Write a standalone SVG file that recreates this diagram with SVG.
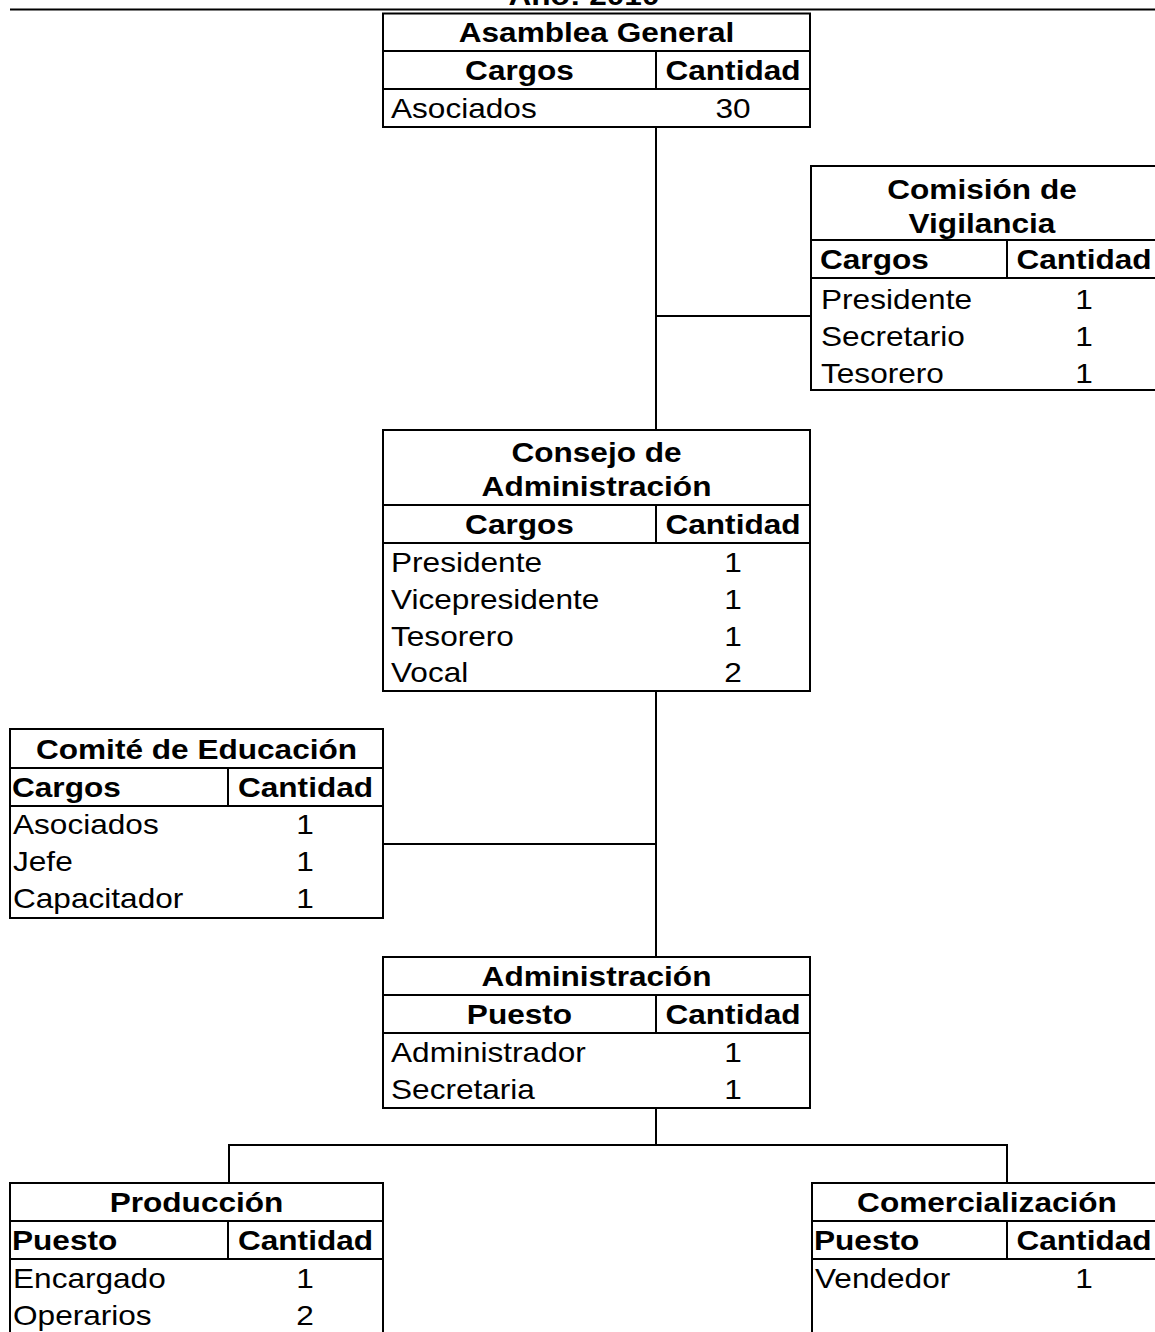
<svg xmlns="http://www.w3.org/2000/svg" width="1155" height="1332" viewBox="0 0 1155 1332">
  <style>
    .box { fill: #ffffff; stroke: #000000; stroke-width: 2; }
    .ln { stroke: #000000; stroke-width: 2; fill: none; }
    text { font-family: "Liberation Sans", Arial, sans-serif; font-size: 27px; fill: #000000; }
    .b { font-weight: bold; }
    .c { text-anchor: middle; }
  </style>
  <rect width="1155" height="1332" fill="#ffffff"/>

  <!-- page heading (mostly above the sheet) and rule -->
  <text class="b c" transform="translate(584 5) scale(1.17 1)">Año: 2010</text>
  <line class="ln" x1="10" y1="9.5" x2="1160" y2="9.5"/>

  <!-- connectors -->
  <g id="connectors">
    <line class="ln" x1="656" y1="127" x2="656" y2="430"/>
    <line class="ln" x1="656" y1="316" x2="811" y2="316"/>
    <line class="ln" x1="656" y1="691" x2="656" y2="957"/>
    <line class="ln" x1="383" y1="844" x2="656" y2="844"/>
    <line class="ln" x1="656" y1="1108" x2="656" y2="1145"/>
    <polyline class="ln" points="229,1183 229,1145 1007,1145 1007,1183"/>
  </g>

  <!-- Asamblea General -->
  <g id="asamblea">
    <rect class="box" x="383" y="13.5" width="427" height="113.5"/>
    <line class="ln" x1="383" y1="51" x2="810" y2="51"/>
    <line class="ln" x1="383" y1="89" x2="810" y2="89"/>
    <line class="ln" x1="656" y1="51" x2="656" y2="89"/>
    <text class="b c" transform="translate(596.5 42) scale(1.17 1)">Asamblea General</text>
    <text class="b c" transform="translate(519.5 80) scale(1.17 1)">Cargos</text>
    <text class="b c" transform="translate(733 80) scale(1.17 1)">Cantidad</text>
    <text transform="translate(391 118) scale(1.17 1)">Asociados</text>
    <text class="c" transform="translate(733 118) scale(1.17 1)">30</text>
  </g>

  <!-- Comisión de Vigilancia -->
  <g id="vigilancia">
    <rect class="box" x="811" y="166" width="350" height="224"/>
    <line class="ln" x1="811" y1="240" x2="1161" y2="240"/>
    <line class="ln" x1="811" y1="278" x2="1161" y2="278"/>
    <line class="ln" x1="1007" y1="240" x2="1007" y2="278"/>
    <text class="b c" transform="translate(982 199) scale(1.17 1)">Comisión de</text>
    <text class="b c" transform="translate(982 233) scale(1.17 1)">Vigilancia</text>
    <text class="b" transform="translate(820 269) scale(1.17 1)">Cargos</text>
    <text class="b c" transform="translate(1084 269) scale(1.17 1)">Cantidad</text>
    <text transform="translate(821 309) scale(1.17 1)">Presidente</text>
    <text transform="translate(821 346) scale(1.17 1)">Secretario</text>
    <text transform="translate(821 383) scale(1.17 1)">Tesorero</text>
    <text class="c" transform="translate(1084 309) scale(1.17 1)">1</text>
    <text class="c" transform="translate(1084 346) scale(1.17 1)">1</text>
    <text class="c" transform="translate(1084 383) scale(1.17 1)">1</text>
  </g>

  <!-- Consejo de Administración -->
  <g id="consejo">
    <rect class="box" x="383" y="430" width="427" height="261"/>
    <line class="ln" x1="383" y1="505" x2="810" y2="505"/>
    <line class="ln" x1="383" y1="543" x2="810" y2="543"/>
    <line class="ln" x1="656" y1="505" x2="656" y2="543"/>
    <text class="b c" transform="translate(596.5 462) scale(1.17 1)">Consejo de</text>
    <text class="b c" transform="translate(596.5 496) scale(1.17 1)">Administración</text>
    <text class="b c" transform="translate(519.5 534) scale(1.17 1)">Cargos</text>
    <text class="b c" transform="translate(733 534) scale(1.17 1)">Cantidad</text>
    <text transform="translate(391 572) scale(1.17 1)">Presidente</text>
    <text transform="translate(391 609) scale(1.17 1)">Vicepresidente</text>
    <text transform="translate(391 646) scale(1.17 1)">Tesorero</text>
    <text transform="translate(391 682) scale(1.17 1)">Vocal</text>
    <text class="c" transform="translate(733 572) scale(1.17 1)">1</text>
    <text class="c" transform="translate(733 609) scale(1.17 1)">1</text>
    <text class="c" transform="translate(733 646) scale(1.17 1)">1</text>
    <text class="c" transform="translate(733 682) scale(1.17 1)">2</text>
  </g>

  <!-- Comité de Educación -->
  <g id="educacion">
    <rect class="box" x="10" y="729" width="373" height="189"/>
    <line class="ln" x1="10" y1="768" x2="383" y2="768"/>
    <line class="ln" x1="10" y1="806" x2="383" y2="806"/>
    <line class="ln" x1="228" y1="768" x2="228" y2="806"/>
    <text class="b c" transform="translate(196.5 759) scale(1.17 1)">Comité de Educación</text>
    <text class="b" transform="translate(12 797) scale(1.17 1)">Cargos</text>
    <text class="b c" transform="translate(305.5 797) scale(1.17 1)">Cantidad</text>
    <text transform="translate(13 834) scale(1.17 1)">Asociados</text>
    <text transform="translate(13 871) scale(1.17 1)">Jefe</text>
    <text transform="translate(13 908) scale(1.17 1)">Capacitador</text>
    <text class="c" transform="translate(305 834) scale(1.17 1)">1</text>
    <text class="c" transform="translate(305 871) scale(1.17 1)">1</text>
    <text class="c" transform="translate(305 908) scale(1.17 1)">1</text>
  </g>

  <!-- Administración -->
  <g id="administracion">
    <rect class="box" x="383" y="957" width="427" height="151"/>
    <line class="ln" x1="383" y1="995" x2="810" y2="995"/>
    <line class="ln" x1="383" y1="1033" x2="810" y2="1033"/>
    <line class="ln" x1="656" y1="995" x2="656" y2="1033"/>
    <text class="b c" transform="translate(596.5 986) scale(1.17 1)">Administración</text>
    <text class="b c" transform="translate(519.5 1024) scale(1.17 1)">Puesto</text>
    <text class="b c" transform="translate(733 1024) scale(1.17 1)">Cantidad</text>
    <text transform="translate(391 1062) scale(1.17 1)">Administrador</text>
    <text transform="translate(391 1099) scale(1.17 1)">Secretaria</text>
    <text class="c" transform="translate(733 1062) scale(1.17 1)">1</text>
    <text class="c" transform="translate(733 1099) scale(1.17 1)">1</text>
  </g>

  <!-- Producción -->
  <g id="produccion">
    <rect class="box" x="10" y="1183" width="373" height="170"/>
    <line class="ln" x1="10" y1="1221" x2="383" y2="1221"/>
    <line class="ln" x1="10" y1="1259" x2="383" y2="1259"/>
    <line class="ln" x1="228" y1="1221" x2="228" y2="1259"/>
    <text class="b c" transform="translate(196.5 1212) scale(1.17 1)">Producción</text>
    <text class="b" transform="translate(12 1250) scale(1.17 1)">Puesto</text>
    <text class="b c" transform="translate(305.5 1250) scale(1.17 1)">Cantidad</text>
    <text transform="translate(13 1288) scale(1.17 1)">Encargado</text>
    <text transform="translate(13 1325) scale(1.17 1)">Operarios</text>
    <text class="c" transform="translate(305 1288) scale(1.17 1)">1</text>
    <text class="c" transform="translate(305 1325) scale(1.17 1)">2</text>
  </g>

  <!-- Comercialización -->
  <g id="comercializacion">
    <rect class="box" x="812" y="1183" width="349" height="170"/>
    <line class="ln" x1="812" y1="1221" x2="1161" y2="1221"/>
    <line class="ln" x1="812" y1="1259" x2="1161" y2="1259"/>
    <line class="ln" x1="1007" y1="1221" x2="1007" y2="1259"/>
    <text class="b c" transform="translate(987 1212) scale(1.17 1)">Comercialización</text>
    <text class="b" transform="translate(814 1250) scale(1.17 1)">Puesto</text>
    <text class="b c" transform="translate(1084 1250) scale(1.17 1)">Cantidad</text>
    <text transform="translate(815 1288) scale(1.17 1)">Vendedor</text>
    <text class="c" transform="translate(1084 1288) scale(1.17 1)">1</text>
  </g>
</svg>
